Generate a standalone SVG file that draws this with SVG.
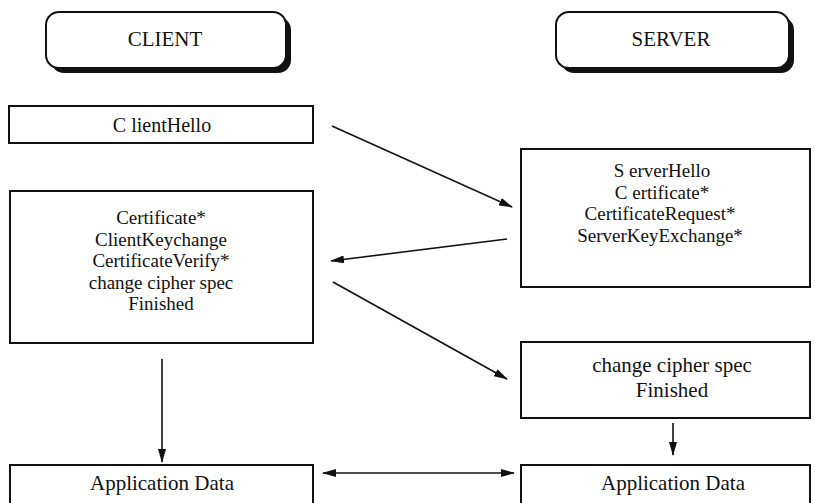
<svg xmlns="http://www.w3.org/2000/svg" width="815" height="503" viewBox="0 0 815 503">
<defs>
<style>
.box{fill:#fff;stroke:#111;stroke-width:2}
.sh{fill:#111}
.t{font-family:"Liberation Serif","Times New Roman",serif;font-size:20px;fill:#111;text-anchor:middle}
.b{font-size:21px}
.s{font-size:19px}
.c{stroke:#111;stroke-width:1.6;fill:none}
</style>
<marker id="ah" viewBox="0 0 14 8" refX="13" refY="4" markerWidth="14" markerHeight="8" markerUnits="userSpaceOnUse" orient="auto-start-reverse">
<path d="M0,0 L14,4 L0,8 Z" fill="#111"/>
</marker>
</defs>
<rect width="815" height="503" fill="#fff"/>
<g id="client">
<rect class="sh" x="51" y="17" width="240" height="56" rx="13"/>
<rect class="box" x="46" y="12" width="240" height="56" rx="13"/>
<text class="t b" x="165" y="46">CLIENT</text>
</g>
<g id="server">
<rect class="sh" x="561" y="17" width="233" height="56" rx="13"/>
<rect class="box" x="556" y="12" width="233" height="56" rx="13"/>
<text class="t b" x="671" y="46">SERVER</text>
</g>
<g id="clienthello">
<rect class="box" x="9" y="106" width="304" height="37"/>
<text class="t" x="162" y="132">C lientHello</text>
</g>
<g id="client-msgs">
<rect class="box" x="10" y="191" width="303" height="152"/>
<text class="t s" x="161" y="224">Certificate*</text>
<text class="t s" x="161" y="245.5">ClientKeychange</text>
<text class="t s" x="161" y="267">CertificateVerify*</text>
<text class="t s" x="161" y="288.5">change cipher spec</text>
<text class="t s" x="161" y="310">Finished</text>
</g>
<g id="server-msgs">
<rect class="box" x="521" y="149" width="289" height="138"/>
<text class="t s" x="662" y="177">S erverHello</text>
<text class="t s" x="662" y="198.5">C ertificate*</text>
<text class="t s" x="660" y="220">CertificateRequest*</text>
<text class="t s" x="660" y="241.5">ServerKeyExchange*</text>
</g>
<g id="server-finish">
<rect class="box" x="521" y="342" width="289" height="76"/>
<text class="t b" x="672" y="372">change cipher spec</text>
<text class="t b" x="672" y="397">Finished</text>
</g>
<g id="client-app">
<rect class="box" x="10" y="465" width="303" height="50"/>
<text class="t b" x="162" y="490">Application Data</text>
</g>
<g id="server-app">
<rect class="box" x="521" y="465" width="289" height="50"/>
<text class="t b" x="673" y="490">Application Data</text>
</g>
<g id="connectors">
<line class="c" x1="332" y1="126" x2="512" y2="207" marker-end="url(#ah)"/>
<line class="c" x1="507" y1="239" x2="331" y2="261" marker-end="url(#ah)"/>
<line class="c" x1="333" y1="282" x2="507" y2="379" marker-end="url(#ah)"/>
<line class="c" x1="162" y1="359" x2="162" y2="462" marker-end="url(#ah)"/>
<line class="c" x1="673" y1="423" x2="673" y2="455" marker-end="url(#ah)"/>
<line class="c" x1="323" y1="473" x2="514" y2="473" marker-start="url(#ah)" marker-end="url(#ah)"/>
</g>
</svg>
